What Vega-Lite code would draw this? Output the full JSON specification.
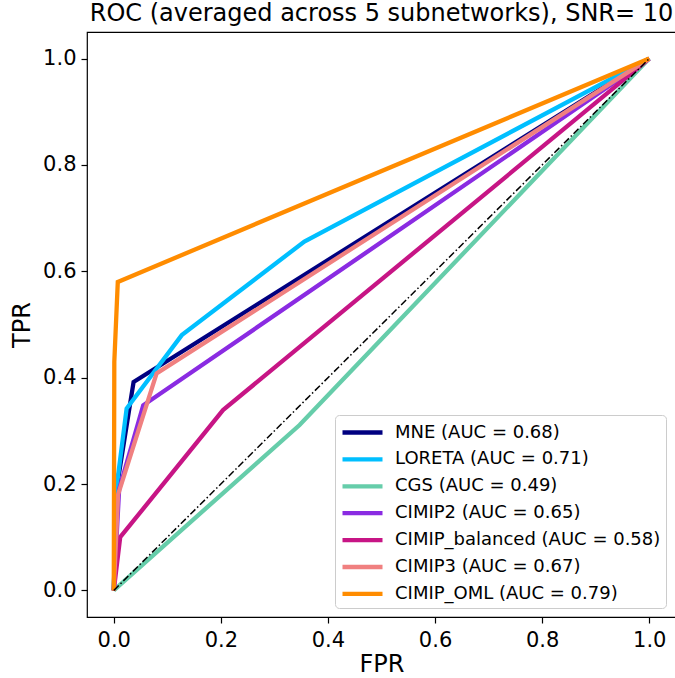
{
  "$schema": "https://vega.github.io/schema/vega-lite/v6.json",
  "width": 589,
  "height": 585,
  "autosize": {"type": "none"},
  "padding": {"left": 87, "top": 32, "right": 0, "bottom": 61},
  "background": "white",
  "config": {
    "font": "DejaVu Sans",
    "view": {"stroke": "black", "strokeWidth": 1.2},
    "axis": {
      "grid": false,
      "domain": false,
      "labelFont": "DejaVu Sans",
      "labelFontSize": 21,
      "labelColor": "black",
      "tickColor": "black",
      "tickSize": 6,
      "tickWidth": 1.2,
      "titleFont": "DejaVu Sans",
      "titleFontSize": 24,
      "titleFontWeight": "normal",
      "titleColor": "black"
    }
  },
  "title": {
    "text": "ROC (averaged across 5 subnetworks), SNR= 10",
    "font": "DejaVu Sans",
    "fontSize": 24,
    "fontWeight": "normal",
    "color": "black",
    "anchor": "middle",
    "offset": 6
  },
  "datasets": {
    "roc": [
      {"model": "MNE (AUC = 0.68)", "i": 0, "fpr": 0, "tpr": 0},
      {"model": "MNE (AUC = 0.68)", "i": 1, "fpr": 0.005, "tpr": 0.19},
      {"model": "MNE (AUC = 0.68)", "i": 2, "fpr": 0.037, "tpr": 0.392},
      {"model": "MNE (AUC = 0.68)", "i": 3, "fpr": 1, "tpr": 1},
      {"model": "LORETA (AUC = 0.71)", "i": 0, "fpr": 0, "tpr": 0},
      {"model": "LORETA (AUC = 0.71)", "i": 1, "fpr": 0.006, "tpr": 0.2},
      {"model": "LORETA (AUC = 0.71)", "i": 2, "fpr": 0.024, "tpr": 0.342},
      {"model": "LORETA (AUC = 0.71)", "i": 3, "fpr": 0.127, "tpr": 0.48},
      {"model": "LORETA (AUC = 0.71)", "i": 4, "fpr": 0.356, "tpr": 0.656},
      {"model": "LORETA (AUC = 0.71)", "i": 5, "fpr": 1, "tpr": 1},
      {"model": "CGS (AUC = 0.49)", "i": 0, "fpr": 0, "tpr": 0},
      {"model": "CGS (AUC = 0.49)", "i": 1, "fpr": 0.347, "tpr": 0.311},
      {"model": "CGS (AUC = 0.49)", "i": 2, "fpr": 1, "tpr": 1},
      {"model": "CIMIP2 (AUC = 0.65)", "i": 0, "fpr": 0, "tpr": 0},
      {"model": "CIMIP2 (AUC = 0.65)", "i": 1, "fpr": 0.01, "tpr": 0.19},
      {"model": "CIMIP2 (AUC = 0.65)", "i": 2, "fpr": 0.055, "tpr": 0.348},
      {"model": "CIMIP2 (AUC = 0.65)", "i": 3, "fpr": 1, "tpr": 1},
      {"model": "CIMIP_balanced (AUC = 0.58)", "i": 0, "fpr": 0, "tpr": 0},
      {"model": "CIMIP_balanced (AUC = 0.58)", "i": 1, "fpr": 0.012, "tpr": 0.1},
      {"model": "CIMIP_balanced (AUC = 0.58)", "i": 2, "fpr": 0.204, "tpr": 0.339},
      {"model": "CIMIP_balanced (AUC = 0.58)", "i": 3, "fpr": 1, "tpr": 1},
      {"model": "CIMIP3 (AUC = 0.67)", "i": 0, "fpr": 0, "tpr": 0},
      {"model": "CIMIP3 (AUC = 0.67)", "i": 1, "fpr": 0.008, "tpr": 0.18},
      {"model": "CIMIP3 (AUC = 0.67)", "i": 2, "fpr": 0.08, "tpr": 0.408},
      {"model": "CIMIP3 (AUC = 0.67)", "i": 3, "fpr": 1, "tpr": 1},
      {"model": "CIMIP_OML (AUC = 0.79)", "i": 0, "fpr": 0, "tpr": 0},
      {"model": "CIMIP_OML (AUC = 0.79)", "i": 1, "fpr": 0.001, "tpr": 0.43},
      {"model": "CIMIP_OML (AUC = 0.79)", "i": 2, "fpr": 0.0075, "tpr": 0.58},
      {"model": "CIMIP_OML (AUC = 0.79)", "i": 3, "fpr": 1, "tpr": 1}
    ],
    "diag": [
      {"fpr": 0, "tpr": 0},
      {"fpr": 1, "tpr": 1}
    ]
  },
  "layer": [
    {
      "data": {"name": "roc"},
      "mark": {"type": "line", "strokeWidth": 4.3, "clip": true},
      "encoding": {
        "x": {
          "field": "fpr", "type": "quantitative",
          "scale": {"domain": [-0.05, 1.05], "nice": false, "zero": false},
          "axis": {"values": [0, 0.2, 0.4, 0.6, 0.8, 1.0], "format": ".1f", "title": "FPR", "labelPadding": 6, "titlePadding": 2}
        },
        "y": {
          "field": "tpr", "type": "quantitative",
          "scale": {"domain": [-0.05, 1.05], "nice": false, "zero": false},
          "axis": {"values": [0, 0.2, 0.4, 0.6, 0.8, 1.0], "format": ".1f", "title": "TPR", "labelPadding": 5, "titlePadding": 8}
        },
        "order": {"field": "i", "type": "quantitative"},
        "color": {
          "field": "model", "type": "nominal",
          "sort": ["MNE (AUC = 0.68)", "LORETA (AUC = 0.71)", "CGS (AUC = 0.49)", "CIMIP2 (AUC = 0.65)", "CIMIP_balanced (AUC = 0.58)", "CIMIP3 (AUC = 0.67)", "CIMIP_OML (AUC = 0.79)"],
          "scale": {
            "domain": ["MNE (AUC = 0.68)", "LORETA (AUC = 0.71)", "CGS (AUC = 0.49)", "CIMIP2 (AUC = 0.65)", "CIMIP_balanced (AUC = 0.58)", "CIMIP3 (AUC = 0.67)", "CIMIP_OML (AUC = 0.79)"],
            "range": ["#000080", "#00BFFF", "#66CDAA", "#8A2BE2", "#C71585", "#F08080", "#FF8C00"]
          },
          "legend": {
            "title": null,
            "orient": "none",
            "legendX": 248,
            "legendY": 383,
            "direction": "vertical",
            "symbolType": "M-2,0H2",
            "symbolSize": 400,
            "symbolStrokeWidth": 4.3,
            "symbolOffset": 10,
            "labelOffset": 20,
            "labelFont": "DejaVu Sans",
            "labelFontSize": 18,
            "labelColor": "black",
            "labelLimit": 400,
            "rowPadding": 4.9,
            "padding": 5,
            "fillColor": "white",
            "strokeColor": "#cccccc",
            "cornerRadius": 4
          }
        }
      }
    },
    {
      "data": {"name": "diag"},
      "mark": {"type": "line", "color": "black", "strokeWidth": 1.5, "strokeDash": [7, 2.5, 1.5, 2.5]},
      "encoding": {
        "x": {"field": "fpr", "type": "quantitative"},
        "y": {"field": "tpr", "type": "quantitative"}
      }
    }
  ]
}
